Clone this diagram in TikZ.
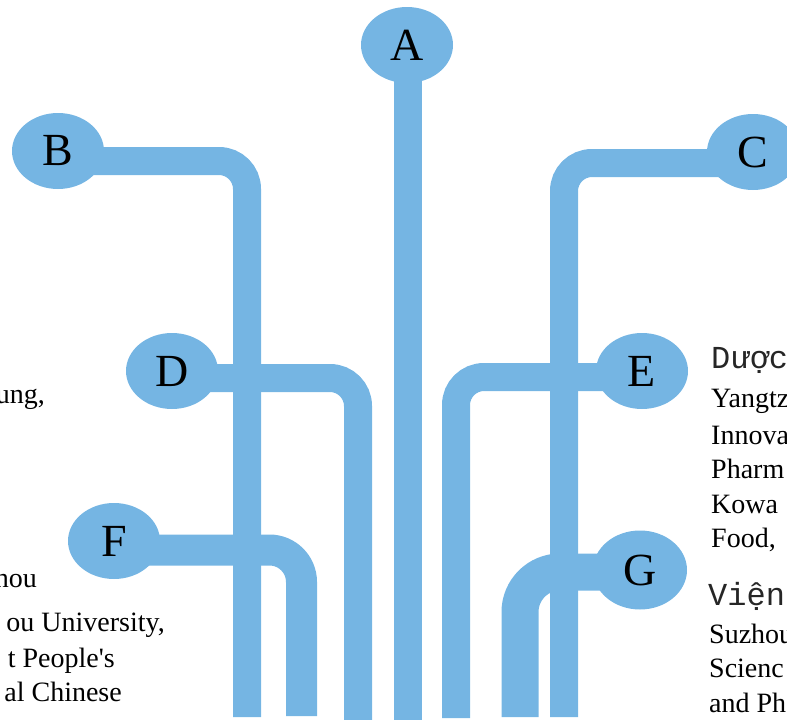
\documentclass[tikz,border=0pt]{standalone}
\usepackage{fontspec}
\setmainfont{Liberation Serif}
\newfontfamily\capsfont{Liberation Serif}
\newfontfamily\codefont{Liberation Mono}
\usetikzlibrary{shapes.geometric,calc,backgrounds}
\definecolor{twigblue}{RGB}{117,181,227}

\begin{document}
\begin{tikzpicture}[x=1pt,y=-1pt,
  bubble/.style={ellipse,fill=twigblue,inner sep=0pt,minimum width=92pt,minimum height=76pt,
    font=\capsfont\fontsize{46}{46}\selectfont},
  branch/.style={draw=twigblue,line width=28pt,rounded corners=28pt},
  note/.style={inner sep=0pt,font=\fontsize{28}{32}\selectfont},
  vnote/.style={inner sep=0pt,text=black!85,font=\codefont\fontsize{32}{36}\selectfont}]
\useasboundingbox (0,0) rectangle (787,720);
\clip (0,0) rectangle (787,720);

% bubbles
\node[bubble] (A) at (407,45) {A};
\node[bubble] (B) at (58,151) {B};
\node[bubble] (C) at (753,152) {C};
\node[bubble] (D) at (172,371) {D};
\node[bubble] (E) at (642,371) {E};
\node[bubble] (F) at (114,541) {F};
\node[bubble,minimum width=94pt,minimum height=79pt] (G) at (640,570) {G};

% where the branches leave the page
\coordinate (a-end) at (408,725);
\coordinate (b-end) at (247,717);
\coordinate (c-end) at (564,717);
\coordinate (d-end) at (358,725);
\coordinate (e-end) at (456,718);
\coordinate (f-end) at (301.5,716);
\coordinate (g-end) at (520,717);

\begin{scope}[on background layer]
\draw[branch] (A.center -| a-end) -- (a-end);
\draw[branch] ($(B)+(0,10)$) -| (b-end);
\draw[branch] ($(C)+(0,11)$) -| (c-end);
\draw[branch] ($(D)+(0,7)$) -| (d-end);
\draw[branch] ($(E)+(0,6)$) -| (e-end);
\draw[branch,line width=31pt,rounded corners=32pt] ($(F)+(0,9)$) -| (f-end);
\draw[branch,line width=37pt,rounded corners=40pt] ($(G)+(0,2)$) -| (g-end);
\end{scope}

% text running off the left edge
\node[note,anchor=base east] (l1) at (45,403) {ung,};
\node[note,anchor=base east] (l2) at (37,587) {hou};
\node[note,anchor=base east] (l3) at (165,631) {ou University,};
\node[note,anchor=base east] (l4) at (115,667) {t People\textquotesingle s};
\node[note,anchor=base east] (l5) at (122,701) {al Chinese};

% text running off the right edge
\node[vnote,anchor=base west] (r0) at (711,368) {Dược};
\node[note,anchor=base west] (r1) at (711,407) {Yangtz};
\node[note,anchor=base west] (r2) at (711,444) {Innova};
\node[note,anchor=base west] (r3) at (711,478) {Pharm};
\node[note,anchor=base west] (r4) at (711,513) {Kowa};
\node[note,anchor=base west] (r5) at (711,547) {Food,};
\node[vnote,anchor=base west] (r6) at (708,605) {Viện};
\node[note,anchor=base west] (r7) at (709,643) {Suzhou};
\node[note,anchor=base west] (r8) at (709,677) {Scienc};
\node[note,anchor=base west] (r9) at (709,712) {and Ph};
\end{tikzpicture}
\end{document}
